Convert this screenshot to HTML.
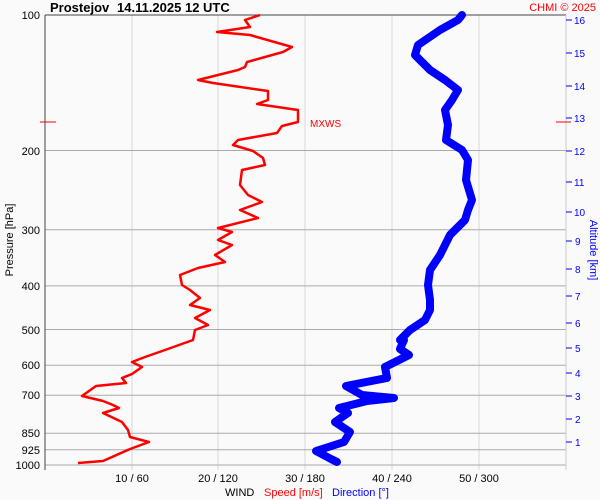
<!DOCTYPE html><html><head><style>body{margin:0;background:#fafafa}svg{display:block;font-family:"Liberation Sans",sans-serif}</style></head><body>
<svg width="600" height="500" viewBox="0 0 600 500">
<rect width="600" height="500" fill="#fafafa"/>
<g stroke="#d8d8d8" stroke-width="1">
<line x1="132" y1="15" x2="132" y2="470"/><line x1="218" y1="15" x2="218" y2="470"/><line x1="305" y1="15" x2="305" y2="470"/><line x1="392" y1="15" x2="392" y2="470"/><line x1="479" y1="15" x2="479" y2="470"/></g>
<g stroke="#aaa" stroke-width="1">
<line x1="45" y1="150.5" x2="566" y2="150.5"/><line x1="45" y1="229.7" x2="566" y2="229.7"/><line x1="45" y1="285.9" x2="566" y2="285.9"/><line x1="45" y1="329.5" x2="566" y2="329.5"/><line x1="45" y1="365.2" x2="566" y2="365.2"/><line x1="45" y1="395.3" x2="566" y2="395.3"/><line x1="45" y1="433.2" x2="566" y2="433.2"/><line x1="45" y1="449.8" x2="566" y2="449.8"/><line x1="45" y1="465" x2="566" y2="465"/></g>
<line x1="45" y1="15" x2="45" y2="470" stroke="#444"/><line x1="45" y1="15" x2="566" y2="15" stroke="#444"/><line x1="566" y1="15" x2="566" y2="470" stroke="#ccc"/>
<g font-size="11" fill="#000" text-anchor="end">
<text x="40" y="19">100</text><text x="40" y="155">200</text><text x="40" y="234">300</text><text x="40" y="290">400</text><text x="40" y="334">500</text><text x="40" y="369">600</text><text x="40" y="399">700</text><text x="40" y="437">850</text><text x="40" y="454">925</text><text x="40" y="469">1000</text></g>
<text x="13" y="240" font-size="11" text-anchor="middle" transform="rotate(-90 13 240)">Pressure [hPa]</text>
<g font-size="11" text-anchor="middle"><text x="132" y="482">10 / 60</text><text x="218" y="482">20 / 120</text><text x="305" y="482">30 / 180</text><text x="392" y="482">40 / 240</text><text x="479" y="482">50 / 300</text></g>
<text x="225" y="496" font-size="11">WIND</text><text x="264" y="496" font-size="11" fill="red">Speed [m/s]</text><text x="332" y="496" font-size="11" fill="blue">Direction [°]</text>
<text x="50" y="12" font-size="13" font-weight="bold">Prostejov</text><text x="117" y="12" font-size="13" font-weight="bold">14.11.2025 12 UTC</text>
<text x="596" y="11" font-size="11" fill="red" text-anchor="end">CHMI © 2025</text>
<g stroke="blue" stroke-width="1"><line x1="566" y1="20" x2="572" y2="20"/><line x1="566" y1="53" x2="572" y2="53"/><line x1="566" y1="86" x2="572" y2="86"/><line x1="566" y1="118" x2="572" y2="118"/><line x1="566" y1="151" x2="572" y2="151"/><line x1="566" y1="182" x2="572" y2="182"/><line x1="566" y1="212" x2="572" y2="212"/><line x1="566" y1="241" x2="572" y2="241"/><line x1="566" y1="269" x2="572" y2="269"/><line x1="566" y1="296" x2="572" y2="296"/><line x1="566" y1="323" x2="572" y2="323"/><line x1="566" y1="348" x2="572" y2="348"/><line x1="566" y1="373" x2="572" y2="373"/><line x1="566" y1="396" x2="572" y2="396"/><line x1="566" y1="419" x2="572" y2="419"/><line x1="566" y1="442" x2="572" y2="442"/></g>
<g font-size="10" fill="blue"><text x="574" y="24">16</text><text x="574" y="57">15</text><text x="574" y="90">14</text><text x="574" y="122">13</text><text x="574" y="155">12</text><text x="574" y="186">11</text><text x="574" y="216">10</text><text x="575" y="245">9</text><text x="575" y="273">8</text><text x="575" y="300">7</text><text x="575" y="327">6</text><text x="575" y="352">5</text><text x="575" y="377">4</text><text x="575" y="400">3</text><text x="575" y="423">2</text><text x="575" y="446">1</text></g>
<text x="590" y="250" font-size="11" fill="blue" text-anchor="middle" transform="rotate(90 590 250)">Altitude [km]</text>
<line x1="40" y1="122" x2="56" y2="122" stroke="red"/><line x1="556" y1="122" x2="571" y2="122" stroke="red"/>
<text x="310" y="127" font-size="10" fill="red">MXWS</text>
<polyline fill="none" stroke="blue" stroke-width="8" stroke-linejoin="round" stroke-linecap="round" points="462,15 458,20 440,30 418,45 415,55 430,70 445,80 458,90 452,100 445,110 448,125 446,140 462,150 468,160 466,180 472,200 468,210 465,220 450,235 445,245 440,255 430,270 428,285 430,300 430,310 425,320 410,330 400,340 404,340 400,349 409,355 385,367 387,378 346,386 362,395 394,398 367,401 339,408 348,413 335,422 350,432 344,442 316,451 331,459 337,462"/>
<polyline fill="none" stroke="red" stroke-width="2.5" stroke-linejoin="round" points="260,15 245,20 250,27 217,32 250,35 292,47 283,52 247,62 245,67 238,70 198,80 213,83 268,91 268,100 257,104 298,110 298,122 282,126 277,133 238,140 233,145 253,151 263,158 265,165 242,170 240,185 248,195 262,202 240,210 258,218 218,228 232,232 218,240 232,245 215,255 225,262 198,268 180,275 182,285 190,290 200,298 190,305 210,310 195,318 208,325 195,330 193,340 165,350 145,357 132,362 142,367 132,374 122,378 126,383 96,386 82,396 103,401 113,405 119,408 103,413 122,422 128,430 130,437 149,442 130,449 103,461 78,463"/>
</svg></body></html>
